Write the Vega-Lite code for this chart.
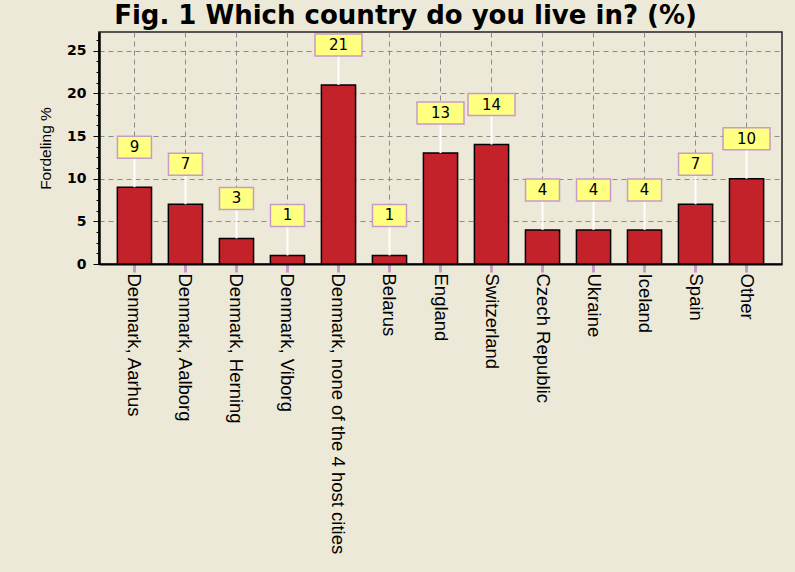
{
  "$schema": "https://vega.github.io/schema/vega-lite/v6.json",
  "width": 683,
  "height": 232,
  "autosize": {"type": "none"},
  "padding": {"left": 99, "top": 32, "right": 13, "bottom": 308},
  "background": "#ECE9D8",
  "title": {
    "text": "Fig. 1 Which country do you live in? (%)",
    "font": "DejaVu Sans",
    "fontSize": 26,
    "fontWeight": "bold",
    "color": "#000000",
    "anchor": "middle",
    "frame": "group",
    "dx": -35,
    "dy": 32,
    "offset": 13,
    "baseline": "alphabetic"
  },
  "config": {
    "view": {"stroke": "#222222", "strokeWidth": 1.5}
  },
  "data": {
    "values": [
      {"country": "Denmark, Aarhus", "value": 9},
      {"country": "Denmark, Aalborg", "value": 7},
      {"country": "Denmark, Herning", "value": 3},
      {"country": "Denmark, Viborg", "value": 1},
      {"country": "Denmark, none of the 4 host cities", "value": 21},
      {"country": "Belarus", "value": 1},
      {"country": "England", "value": 13},
      {"country": "Switzerland", "value": 14},
      {"country": "Czech Republic", "value": 4},
      {"country": "Ukraine", "value": 4},
      {"country": "Iceland", "value": 4},
      {"country": "Spain", "value": 7},
      {"country": "Other", "value": 10}
    ]
  },
  "encoding": {
    "x": {
      "field": "country",
      "type": "nominal",
      "sort": null,
      "scale": {"paddingInner": 0.33, "paddingOuter": 0.36},
      "axis": {
        "title": null,
        "labelAngle": 90,
        "labelAlign": "left",
        "labelBaseline": "middle",
        "labelFont": "Liberation Sans",
        "labelFontSize": 18.5,
        "labelColor": "#000000",
        "labelPadding": 1,
        "labelLimit": 400,
        "tickColor": "#C89BC8",
        "tickWidth": 3,
        "tickSize": 8,
        "domainColor": "#000000",
        "domainWidth": 2,
        "grid": true,
        "gridColor": "#8A8A8A",
        "gridDash": [5, 4],
        "gridWidth": 1,
        "bandPosition": 0.5
      }
    }
  },
  "resolve": {"axis": {"y": "independent"}},
  "layer": [
    {
      "mark": {"type": "bar", "fill": "#C4222B", "stroke": "#000000", "strokeWidth": 1.5},
      "encoding": {
        "y": {
          "field": "value",
          "type": "quantitative",
          "scale": {"domain": [0, 27.2], "nice": false, "zero": true},
          "axis": {
            "orient": "left",
            "values": [0, 5, 10, 15, 20, 25],
            "title": "Fordeling %",
            "titleFont": "Liberation Sans",
            "titleFontSize": 15.5,
            "titleFontWeight": "normal",
            "titleColor": "#000000",
            "titleX": -54,
            "titleY": 116,
            "titleAngle": -90,
            "titleAlign": "center",
            "titleBaseline": "middle",
            "labelFont": "DejaVu Sans",
            "labelFontWeight": "bold",
            "labelFontSize": 14,
            "labelColor": "#000000",
            "labelPadding": 7,
            "tickSize": 6,
            "tickColor": "#000000",
            "domainColor": "#000000",
            "domainWidth": 2.5,
            "grid": true,
            "gridColor": "#8A8A8A",
            "gridDash": [5, 4],
            "gridWidth": 1
          }
        }
      }
    },
    {
      "mark": {"type": "rule", "color": "#FFFFFF", "strokeWidth": 2, "y2Offset": -29},
      "encoding": {
        "y": {
          "field": "value",
          "type": "quantitative",
          "axis": {
            "orient": "left",
            "values": [1.25, 2.5, 3.75, 6.25, 7.5, 8.75, 11.25, 12.5, 13.75, 16.25, 17.5, 18.75, 21.25, 22.5, 23.75, 26.25],
            "labels": false,
            "domain": false,
            "grid": false,
            "title": null,
            "tickSize": 3,
            "tickColor": "#000000"
          }
        },
        "y2": {"field": "value"}
      }
    },
    {
      "mark": {"type": "point", "filled": true, "fill": "#FFFF80", "stroke": "#C89BC8", "strokeWidth": 1.5, "opacity": 1, "size": 2209, "yOffset": -40},
      "encoding": {
        "y": {"field": "value", "type": "quantitative", "axis": null},
        "shape": {
          "condition": {"test": "datum.value >= 10", "value": "M-1,-0.468H1V0.468H-1Z"},
          "value": "M-0.7234,-0.468H0.7234V0.468H-0.7234Z"
        }
      }
    },
    {
      "mark": {"type": "text", "font": "DejaVu Sans", "fontSize": 15, "yOffset": -40, "baseline": "middle", "align": "center", "color": "#000000"},
      "encoding": {
        "y": {"field": "value", "type": "quantitative", "axis": null},
        "text": {"field": "value", "type": "quantitative"}
      }
    }
  ]
}
